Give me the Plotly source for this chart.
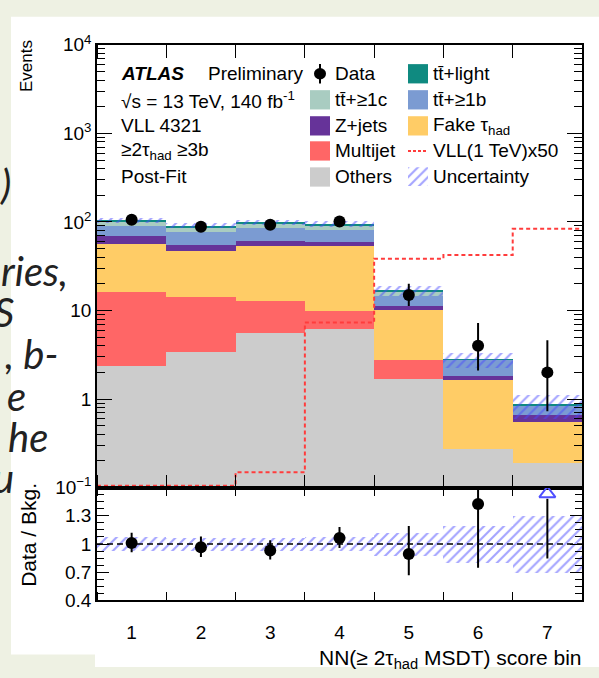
import numpy as np
import plotly.graph_objects as go

W, H = 599, 678

# ---------------------------------------------------------------- data
bins = [1, 2, 3, 4, 5, 6, 7]
bin_labels = ["1", "2", "3", "4", "5", "6", "7"]

# post-fit background yields per bin, listed from the bottom of the stack up
others = [2.36, 3.37, 5.53, 6.16, 1.69, 0.275, 0.189]
multijet = [13.9, 11.0, 7.4, 3.8, 1.05, 0.0, 0.0]
fake_tau = [40.3, 32.3, 40.4, 43.4, 7.46, 1.39, 0.37]
zjets = [13.1, 8.9, 8.2, 6.1, 1.0, 0.18, 0.10]
ttbar_1b = [20.5, 22.0, 23.6, 22.3, 3.4, 0.93, 0.19]
ttbar_1c = [11.4, 10.3, 11.5, 10.8, 1.7, 0.02, 0.01]
ttbar_light = [3.2, 3.3, 3.2, 2.4, 0.5, 0.01, 0.005]
bkg_rel_unc = [0.075, 0.07, 0.07, 0.075, 0.125, 0.195, 0.30]

data = [106, 88, 93, 101, 15, 4, 2]
data_err_up = [11.3, 10.4, 10.7, 11.1, 5.0, 3.2, 2.6]
data_err_dn = [10.3, 9.4, 9.6, 10.0, 3.8, 1.9, 1.27]

vll_x50 = [0.105, 0.105, 0.149, 7.3, 38.5, 42.2, 83.5]

legend_col1 = ["Data", "tt\u0304+\u22651c", "Z+jets", "Multijet", "Others"]
legend_col2 = ["tt\u0304+light", "tt\u0304+\u22651b", "Fake \u03c4<sub>had</sub>",
               "VLL(1 TeV)x50", "Uncertainty"]
info_lines = ["\u221as = 13 TeV, 140 fb<sup>-1</sup>", "VLL 4321",
              "\u22652\u03c4<sub>had</sub> \u22653b", "Post-Fit"]

# ---------------------------------------------------------------- styles
C_OTHERS = "#cccccc"
C_MULTIJET = "#ff6666"
C_FAKE = "#ffcc66"
C_ZJETS = "#663399"
C_TT1B = "#7b9bd2"
C_TT1C = "#a9ccc1"
C_TTLIGHT = "#0f8a80"
C_VLL = "#ff3c3c"
C_HATCH = "#4848ff"
FONT = "Liberation Sans, Arial, sans-serif"

hatch = dict(shape="/", fgcolor=C_HATCH, bgcolor="rgba(0,0,0,0)", size=7, solidity=0.3)


def px_x(x):
    return x / W


def px_y(y):
    return 1 - y / H


X_DOM = [px_x(97), px_x(582)]
Y_MAIN = [px_y(492), px_y(33)]
Y_RATIO = [px_y(609), px_y(492)]
RATIO_LO, RATIO_HI = 0.4, 1.6

fig = go.Figure()

# ---------------------------------------------------------------- stacked backgrounds
components = [
    (others, C_OTHERS), (multijet, C_MULTIJET), (fake_tau, C_FAKE), (zjets, C_ZJETS),
    (ttbar_1b, C_TT1B), (ttbar_1c, C_TT1C), (ttbar_light, C_TTLIGHT),
]
cum = np.zeros(len(bins))
for vals, col in components:
    v = np.asarray(vals, dtype=float)
    fig.add_trace(go.Bar(
        x=bins, y=v, base=(cum.copy() if cum.any() else None), width=1,
        marker=dict(color=col, line=dict(width=0)),
        xaxis="x", yaxis="y", showlegend=False, hoverinfo="skip"))
    cum = cum + v
total = cum
unc = np.asarray(bkg_rel_unc)

# background uncertainty band
fig.add_trace(go.Bar(
    x=bins, y=2 * unc * total, base=total * (1 - unc), width=1,
    marker=dict(color="rgba(0,0,0,0)", line=dict(width=0), pattern=hatch),
    xaxis="x", yaxis="y", showlegend=False, hoverinfo="skip"))

# signal, drawn as a step line over the bin edges
edges = [b - 0.5 for b in bins] + [bins[-1] + 0.5]
fig.add_trace(go.Scatter(
    x=edges, y=vll_x50 + [vll_x50[-1]], mode="lines",
    line=dict(shape="hv", color=C_VLL, width=2, dash="4px,3px"),
    xaxis="x", yaxis="y", showlegend=False, hoverinfo="skip"))

# data
fig.add_trace(go.Scatter(
    x=bins, y=data, mode="markers",
    marker=dict(color="black", size=12),
    error_y=dict(type="data", array=data_err_up, arrayminus=data_err_dn,
                 color="black", thickness=2, width=0),
    xaxis="x", yaxis="y", showlegend=False, hoverinfo="skip"))

# ---------------------------------------------------------------- ratio panel
fig.add_trace(go.Bar(
    x=bins, y=2 * unc, base=1 - unc, width=1,
    marker=dict(color="rgba(0,0,0,0)", line=dict(width=0), pattern=hatch),
    xaxis="x2", yaxis="y2", showlegend=False, hoverinfo="skip"))

d = np.asarray(data, dtype=float)
ratio = d / total
r_up = np.asarray(data_err_up) / total
r_dn = np.asarray(data_err_dn) / total
inside = ratio <= RATIO_HI
xb = np.asarray(bins)

fig.add_trace(go.Scatter(
    x=xb[inside], y=ratio[inside], mode="markers",
    marker=dict(color="black", size=12),
    error_y=dict(type="data", array=r_up[inside], arrayminus=r_dn[inside],
                 color="black", thickness=2, width=0),
    xaxis="x2", yaxis="y2", showlegend=False, hoverinfo="skip"))

# points above the panel range: open arrow at the top edge
for b, r, e in zip(xb[~inside], ratio[~inside], r_dn[~inside]):
    fig.add_trace(go.Scatter(
        x=[b, b], y=[r - e, RATIO_HI - 0.12], mode="lines",
        line=dict(color="black", width=2),
        xaxis="x2", yaxis="y2", showlegend=False, hoverinfo="skip"))
    fig.add_trace(go.Scatter(
        x=[b], y=[RATIO_HI - 0.065], mode="markers",
        marker=dict(symbol="triangle-up-open", size=14, color="#4f4fff",
                    line=dict(width=2, color="#4f4fff")),
        xaxis="x2", yaxis="y2", showlegend=False, hoverinfo="skip"))

# ---------------------------------------------------------------- legend
shapes = [
    # white page behind the figure
    dict(type="rect", xref="paper", yref="paper", layer="below",
         x0=px_x(11), x1=1.0, y0=px_y(665), y1=px_y(4),
         fillcolor="white", line=dict(width=0)),
    dict(type="rect", xref="paper", yref="paper", layer="below",
         x0=px_x(95), x1=1.0, y0=0.0, y1=px_y(664),
         fillcolor="white", line=dict(width=0)),
    # unity line in the ratio panel
    dict(type="line", xref="x2 domain", yref="y2", x0=0, x1=1, y0=1, y1=1,
         line=dict(color="black", width=1.5, dash="6px,4px")),
]
annotations = []

rows = [63, 90, 117, 143, 170]
col1_x, col2_x = 310, 408
sw = 20


def swatch(x, y, color):
    shapes.append(dict(type="rect", xref="paper", yref="paper",
                       x0=px_x(x), x1=px_x(x + sw), y0=px_y(y + sw / 2), y1=px_y(y - sw / 2),
                       fillcolor=color, line=dict(width=0)))


def label(x, y, text, size=19, anchor="left"):
    annotations.append(dict(xref="paper", yref="paper", x=px_x(x), y=px_y(y),
                            xanchor=anchor, yanchor="middle", text=text, showarrow=False,
                            font=dict(family=FONT, size=size, color="black")))


# Data marker with its error bar
shapes.append(dict(type="line", xref="paper", yref="paper",
                   x0=px_x(col1_x + 10), x1=px_x(col1_x + 10),
                   y0=px_y(rows[0] - 10), y1=px_y(rows[0] + 10),
                   line=dict(color="black", width=2)))
shapes.append(dict(type="circle", xref="paper", yref="paper",
                   x0=px_x(col1_x + 4), x1=px_x(col1_x + 16),
                   y0=px_y(rows[0] + 6), y1=px_y(rows[0] - 6),
                   fillcolor="black", line=dict(width=0)))
for y, col in zip(rows[1:], [C_TT1C, C_ZJETS, C_MULTIJET, C_OTHERS]):
    swatch(col1_x, y, col)
for y, col in zip(rows[:3], [C_TTLIGHT, C_TT1B, C_FAKE]):
    swatch(col2_x, y, col)
shapes.append(dict(type="line", xref="paper", yref="paper",
                   x0=px_x(col2_x), x1=px_x(col2_x + sw), y0=px_y(rows[3]), y1=px_y(rows[3]),
                   line=dict(color=C_VLL, width=2, dash="3px,2px")))

for y, t in zip(rows, legend_col1):
    label(col1_x + 23, y, t)
for y, t in zip(rows, legend_col2):
    label(col2_x + 23, y, t)

# hatched swatch for the uncertainty entry, drawn on a small hidden axis
fig.add_trace(go.Bar(
    x=[0.5], y=[1], width=1,
    marker=dict(color="rgba(0,0,0,0)", line=dict(width=0), pattern=hatch),
    xaxis="x3", yaxis="y3", showlegend=False, hoverinfo="skip"))

# ---------------------------------------------------------------- labels
label(119, rows[0], "<b><i>ATLAS</i></b>")
label(206, rows[0], "Preliminary")
for y, t in zip(rows[1:], info_lines):
    label(119, y, t)

annotations.append(dict(xref="paper", yref="paper", x=px_x(26), y=px_y(26),
                        xanchor="center", yanchor="top", textangle=-90, showarrow=False,
                        text="Events", font=dict(family=FONT, size=17, color="black")))
annotations.append(dict(xref="paper", yref="paper", x=px_x(29), y=px_y(541),
                        xanchor="center", yanchor="middle", textangle=-90, showarrow=False,
                        text="Data / Bkg.", font=dict(family=FONT, size=21, color="black")))
annotations.append(dict(xref="paper", yref="paper", x=px_x(584), y=px_y(670),
                        xanchor="right", yanchor="middle", showarrow=False,
                        text="NN(\u2265 2\u03c4<sub>had</sub> MSDT) score bin",
                        font=dict(family=FONT, size=21, color="black")))

# slide text running in from the left
side_text = [(")", 13, 177), ("ries,", 70, 267), ("S", 16, 310), (", b-", 61, 354),
             ("e", 28, 397), ("he", 50, 440), ("u", 16, 482)]
for t, xr, yc in side_text:
    annotations.append(dict(xref="paper", yref="paper", x=px_x(xr), y=px_y(yc),
                            xanchor="right", yanchor="middle", showarrow=False,
                            text="<i>" + t + "</i>",
                            font=dict(family="Lato, sans-serif", size=40, color="#222222")))

# ---------------------------------------------------------------- axes
frame = dict(showline=True, linecolor="black", linewidth=1.5, mirror="allticks",
             showgrid=False, zeroline=False, tickcolor="black", tickwidth=1,
             tickfont=dict(family=FONT, size=19, color="black"))

fig.update_layout(
    width=W, height=H, autosize=False,
    margin=dict(l=0, r=0, t=0, b=0),
    paper_bgcolor="#eef1e3", plot_bgcolor="white",
    barmode="overlay", bargap=0, showlegend=False,
    shapes=shapes, annotations=annotations,
    xaxis=dict(frame, domain=X_DOM, range=[0.5, 7.5], anchor="y",
               tickvals=bins, ticks="", showticklabels=False,
               minor=dict(tick0=0.5, dtick=1, ticks="inside", ticklen=13,
                          tickcolor="black", showgrid=False)),
    yaxis=dict(frame, domain=Y_MAIN, type="log", range=[-1, 4], anchor="x",
               tickvals=[0.1, 1, 10, 100, 1000, 10000],
               ticktext=["10<sup>\u22121</sup>", "1", "10", "10<sup>2</sup>",
                         "10<sup>3</sup>", "10<sup>4</sup>"],
               ticks="inside", ticklen=15,
               minor=dict(ticks="inside", ticklen=8, dtick="D1",
                          tickcolor="black", showgrid=False)),
    xaxis2=dict(frame, domain=X_DOM, range=[0.5, 7.5], anchor="y2", matches="x",
                tickvals=bins, ticktext=bin_labels, ticks="", ticklabelstandoff=14,
                minor=dict(tick0=0.5, dtick=1, ticks="inside", ticklen=9,
                           tickcolor="black", showgrid=False)),
    yaxis2=dict(frame, domain=Y_RATIO, range=[RATIO_LO, RATIO_HI], anchor="x2",
                tickvals=[0.4, 0.7, 1.0, 1.3], ticktext=["0.4", "0.7", "1", "1.3"],
                ticks="inside", ticklen=12,
                minor=dict(tick0=RATIO_LO, dtick=0.075, ticks="inside", ticklen=7,
                           tickcolor="black", showgrid=False)),
    xaxis3=dict(domain=[px_x(col2_x), px_x(col2_x + sw)], range=[0, 1], visible=False,
                anchor="y3", fixedrange=True),
    yaxis3=dict(domain=[px_y(rows[4] + sw / 2), px_y(rows[4] - sw / 2)], range=[0, 1],
                visible=False, anchor="x3", fixedrange=True),
)

fig.write_html("out.html")
